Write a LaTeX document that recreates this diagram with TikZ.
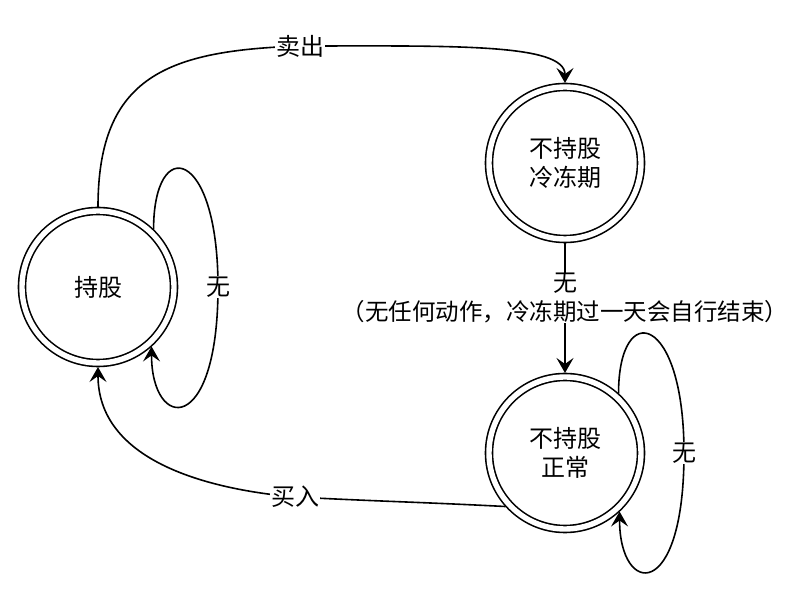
\documentclass[tikz,border=0pt]{standalone}
\usepackage{fontspec}
\setmainfont{Noto Sans CJK SC}
\usetikzlibrary{automata,positioning,arrows.meta,calc}
\tikzset{
  fsm/.style={->,>={Stealth[length=15pt,width=17pt,inset=6pt]},line width=1.6pt,
    font=\fontsize{24pt}{29pt}\selectfont,node distance=200pt,on grid,
    every state/.style={draw,double,double distance=5.4pt,line width=1.6pt,
      minimum size=152pt,outer sep=4pt,inner sep=1pt,align=center}},
  lbl/.style={fill=white,inner sep=1pt},
}

\begin{document}
\begin{tikzpicture}[fsm,x=1pt,y=1pt]
  \useasboundingbox (0,0) rectangle (790,594);
  \node[state] (hold) at (98,307) {持股};
  \node[state] (cool) [above right=124pt and 467pt of hold] {不持股\\冷冻期};
  \node[state] (free) [below=290pt of cool] {不持股\\正常};
  % sell, then one day frozen
  \draw (hold.north) to[out=90,in=182,looseness=1.3] ([shift={(202,161)}]hold.north)
        node[lbl] {卖出}
        to[out=0,in=90,out distance=150pt,in distance=40pt] (cool.north);
  \draw (cool) -- node[lbl,pos=0.42,align=center,inner sep=0pt]
        {无\\\fontsize{23.5pt}{29pt}\selectfont（无任何动作，冷冻期过一天会自行结束）} (free);
  \draw (free.222) to[out=177,in=-3] ([shift={(-270,-44)}]free.center) node[lbl] {买入}
        to[out=175,in=-90] (hold.south);
  % self loops
  \draw (hold.46) .. controls +(0,95) and +(0,140) .. ([xshift=120pt]hold.center) node[lbl] {无}
        .. controls +(0,-150) and +(0,-85) .. (hold.-48);
  \draw (free.48) .. controls +(0,95) and +(0,140) .. ([xshift=119pt]free.center) node[lbl] {无}
        .. controls +(0,-150) and +(0,-85) .. (free.-47);
\end{tikzpicture}
\end{document}
